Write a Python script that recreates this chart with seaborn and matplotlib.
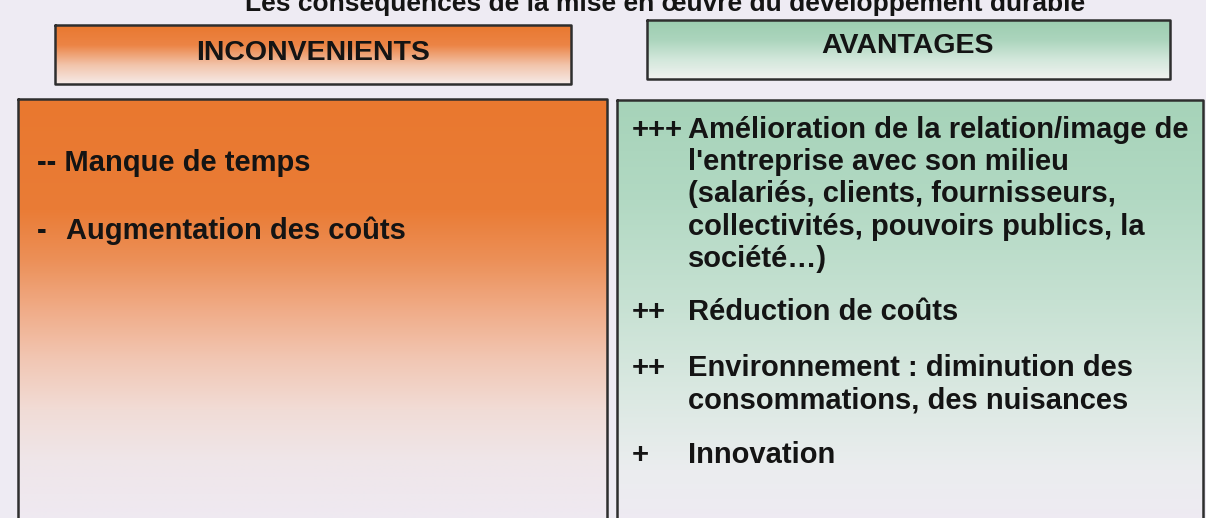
import numpy as np
import matplotlib.pyplot as plt
import seaborn as sns
from matplotlib.colors import to_rgb

sns.set_style("white")
plt.rcParams['font.family'] = ['Liberation Sans', 'DejaVu Sans']

# Text content
title = "Les conséquences de la mise en œuvre du développement durable"
headers = ["INCONVENIENTS", "AVANTAGES"]

cons_marks = ["--", "-"]
cons_items = ["Manque de temps", "Augmentation des coûts"]

pros_marks = ["+++", "++", "++", "+"]
pros_items = [
    ["Amélioration de la relation/image de",
     "l'entreprise avec son milieu",
     "(salariés, clients, fournisseurs,",
     "collectivités, pouvoirs publics, la",
     "société…)"],
    ["Réduction de coûts"],
    ["Environnement : diminution des",
     "consommations, des nuisances"],
    ["Innovation"],
]

bg = "#eeebf3"
orange = "#e9782f"
pale = "#efeaf3"


def gradient(ax, x0, x1, y0, y1, stops):
    # stops: list of (y position, color) from top to bottom
    ys = np.linspace(y0, y1, 300)
    fr = [s[0] for s in stops]
    cols = np.array([to_rgb(s[1]) for s in stops])
    img = np.stack([np.interp(ys, fr, cols[:, k]) for k in range(3)], axis=1)
    img = img[:, None, :]
    ax.imshow(img, extent=(x0, x1, y1, y0), aspect='auto', zorder=1, interpolation='bilinear')
    ax.plot([x0, x1, x1, x0, x0], [y0, y0, y1, y1, y0], color="#2e2e2e", lw=1.8, zorder=3)


fig = plt.figure(figsize=(12.06, 5.18), dpi=100)
fig.patch.set_facecolor(bg)
ax = fig.add_axes([0, 0, 1, 1])
ax.set_facecolor(bg)
ax.set_xlim(0, 1206)
ax.set_ylim(518, 0)
ax.axis('off')

# header boxes
gradient(ax, 55, 571, 25, 84, [(25, orange), (45, "#ec8445"), (65, "#f2c4ab"), (84, "#f6ebe8")])
gradient(ax, 647, 1170, 20, 79, [(20, "#9ccdb0"), (40, "#acd5bd"), (60, "#d3e8dc"), (79, "#f1f2f0")])
hfs = 20.5
ax.text(313, 53, headers[0], ha='center', va='center', fontsize=hfs, fontweight='bold', color="#141414", zorder=4)
ax.text(908, 46, headers[1], ha='center', va='center', fontsize=hfs, fontweight='bold', color="#141414", zorder=4)

# body boxes
gradient(ax, 18, 607, 99, 530, [(99, orange), (210, "#ea7c36"), (260, "#ec9058"),
                                (310, "#f0ac88"), (360, "#f2c7b4"), (410, "#f1dcd6"),
                                (460, "#efe6e9"), (530, pale)])
gradient(ax, 617, 1203, 100, 530, [(100, "#a6d3b9"), (200, "#b2d9c3"), (300, "#c6e1d2"),
                                   (400, "#dce9e3"), (470, "#ebedef"), (530, pale)])

fs = 21
tc = "#141414"
cons_y = [163, 231]
cons_x = [37, 66]
for mark, item, y, x in zip(cons_marks, cons_items, cons_y, cons_x):
    if mark == "--":
        ax.text(37, y, mark + " " + item, ha='left', va='center', fontsize=fs,
                fontweight='bold', color=tc, zorder=4)
    else:
        ax.text(37, y, mark, ha='left', va='center', fontsize=fs, fontweight='bold', color=tc, zorder=4)
        ax.text(x, y, item, ha='left', va='center', fontsize=fs, fontweight='bold', color=tc, zorder=4)

pros_y0 = [130, 312, 368, 455]
line_h = 32.2
for mark, lines, y0 in zip(pros_marks, pros_items, pros_y0):
    ax.text(632, y0, mark, ha='left', va='center', fontsize=fs, fontweight='bold', color=tc, zorder=4)
    for i, line in enumerate(lines):
        ax.text(688, y0 + i * line_h, line, ha='left', va='center', fontsize=fs,
                fontweight='bold', color=tc, zorder=4)

ax.text(665, 11, title, ha='center', va='baseline', fontsize=19, fontweight='bold', color=tc, zorder=4)

fig.savefig("out.png", dpi=100, facecolor=bg)
